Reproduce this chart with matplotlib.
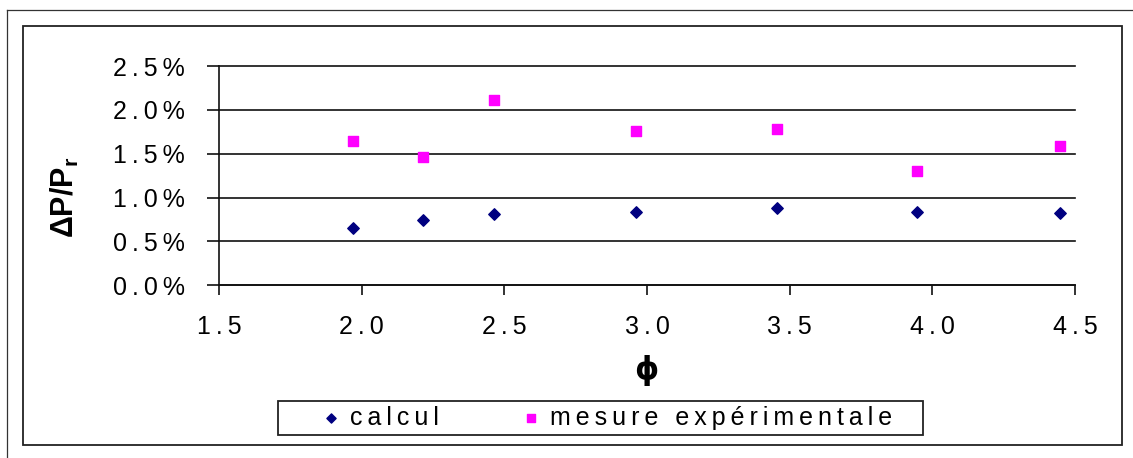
import numpy as np
import matplotlib
matplotlib.use('Agg')
import matplotlib.pyplot as plt
from matplotlib.lines import Line2D
from matplotlib.patches import Rectangle

plt.rcParams['font.family'] = ['Liberation Sans', 'DejaVu Sans']
plt.rcParams['mathtext.default'] = 'regular'

# data (values in %)
phi = [1.97, 2.215, 2.463, 2.962, 3.455, 3.947, 4.449]
calcul = [0.657, 0.741, 0.813, 0.839, 0.885, 0.836, 0.824]
mesure = [1.649, 1.467, 2.117, 1.760, 1.779, 1.300, 1.592]

x_ticks = [1.5, 2.0, 2.5, 3.0, 3.5, 4.0, 4.5]
y_ticks = [0.0, 0.5, 1.0, 1.5, 2.0, 2.5]

TS = '\u2009'  # thin space, imitates the letter spacing of the original


def spaced(s):
    return TS.join(s)


W, H = 1133, 458
fig = plt.figure(figsize=(W / 100, H / 100), dpi=100)


def fx(x):
    return x / W


def fy(y):
    return 1 - y / H


# frames around the chart
fig.add_artist(Line2D([fx(7), 1], [fy(10), fy(10)], color='#333333', lw=0.9))
fig.add_artist(Line2D([fx(7), fx(7)], [fy(10), 0], color='#333333', lw=0.9))
fig.add_artist(Rectangle((fx(23), fy(445)), fx(1122) - fx(23), fy(26) - fy(445),
                         fill=False, edgecolor='#222222', lw=1.3))

ax = fig.add_axes([fx(219), fy(285.3), fx(1075) - fx(219), fy(66) - fy(285.3)])

ax.scatter(phi, calcul, marker='D', s=34, color='#000080', zorder=3, label='calcul')
ax.scatter(phi, mesure, marker='s', s=56, color='#FF00FF', zorder=3,
           label='mesure expérimentale')

ax.set_xlim(1.5, 4.5)
ax.set_ylim(0, 2.5)
ax.set_xticks(x_ticks)
ax.set_xticklabels([spaced('%.1f' % v) for v in x_ticks])
ax.set_yticks(y_ticks)
ax.set_yticklabels([spaced('%.1f' % v) + TS + '%' for v in y_ticks])

ax.grid(axis='y', color='#111111', lw=1.2)
for gl in ax.get_ygridlines():
    gl.set_clip_on(False)
ax.set_axisbelow(True)

for s in ['top', 'right']:
    ax.spines[s].set_visible(False)
for s in ['left', 'bottom']:
    ax.spines[s].set_color('#111111')
    ax.spines[s].set_linewidth(1.2)

ax.tick_params(axis='y', direction='out', length=8.6, width=1.2, pad=16,
               labelsize=18, color='#111111')
ax.tick_params(axis='x', direction='out', length=7.2, width=1.2, pad=14,
               labelsize=18, color='#111111')

# axis titles
fig.text(fx(65), fy(197), 'ΔP/P$_{r}$', rotation=90, ha='center', va='center',
         fontsize=22, fontweight='bold')
fig.text(fx(646), fy(370), 'ϕ', ha='center', va='center', fontsize=22,
         fontweight='bold', family=['DejaVu Sans'])

# legend
fig.add_artist(Rectangle((fx(278), fy(435)), fx(923) - fx(278), fy(401) - fy(435),
                         fill=False, edgecolor='#222222', lw=1.3))
handles, labels = ax.get_legend_handles_labels()
leg = fig.legend(handles, [spaced(l) for l in labels], loc='center left',
                 bbox_to_anchor=(fx(318.5), fy(418)), ncol=2, frameon=False,
                 fontsize=18, handlelength=1.0, handletextpad=0.26,
                 columnspacing=3.2, borderpad=0, borderaxespad=0, scatterpoints=1,
                 markerscale=0.8)

plt.savefig('out.png', dpi=100)
